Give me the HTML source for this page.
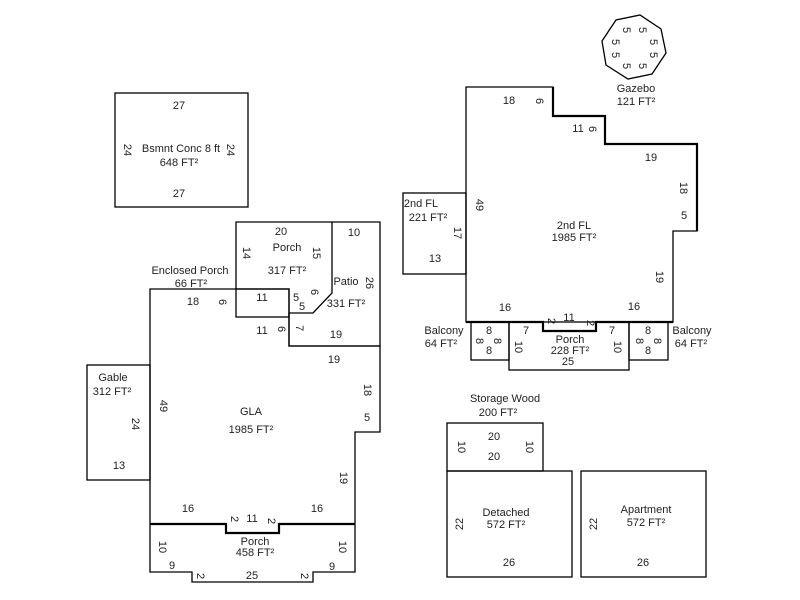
<!DOCTYPE html>
<html><head><meta charset="utf-8"><style>
html,body{margin:0;padding:0;background:#fff;}
svg{display:block;font-family:"Liberation Sans",Arial,sans-serif;font-size:11px;}
text{fill:#222;text-anchor:middle;dominant-baseline:middle;}
</style></head><body>
<svg width="800" height="600" viewBox="0 0 800 600" xmlns="http://www.w3.org/2000/svg">
<g fill="none" stroke="#000" stroke-width="1.3">
<polygon points="666,53 652,74 628,79 606,65 602,41 616,20 640,15 661,29"/>
<rect x="115" y="93" width="133" height="114"/>
<polyline points="236,289 236,222 332,222 332,293 313,313 289,313"/>
<rect x="236" y="289" width="53" height="28"/>
<polyline points="332,222 380,222 380,346 289,346 289,313"/>
<polyline points="150,524 150,289 289,289 289,346 380,346 380,432 355,432 355,524"/>
<rect x="87" y="365" width="63" height="115"/>
<polyline points="150,524 150,572 192,572 192,582 313,582 313,572 355,572 355,524"/>
<polygon points="466,87 553,87 553,116 605,116 605,144 697,144 697,231 673,231 673,322 596,322 596,331 543,331 543,322 466,322"/>
<rect x="403" y="193" width="63" height="81"/>
<rect x="471" y="322" width="38" height="38"/>
<rect x="509" y="322" width="120" height="48"/>
<rect x="629" y="322" width="39" height="38"/>
<rect x="447" y="423" width="96" height="48"/>
<rect x="447" y="471" width="125" height="106"/>
<rect x="581" y="471" width="125" height="106"/>
</g>
<g fill="none" stroke="#000" stroke-width="2.2">
<polyline points="150,524 226,524 226,533 279,533 279,524 355,524"/>
<polyline points="553,87 553,116 605,116 605,144 697,144 697,231"/>
<polyline points="466,322 543,322 543,331 596,331 596,322 673,322"/>
</g>
<text x="626" y="30" transform="rotate(90 626 30)">5</text>
<text x="642" y="30" transform="rotate(90 642 30)">5</text>
<text x="653" y="42" transform="rotate(90 653 42)">5</text>
<text x="653" y="55" transform="rotate(90 653 55)">5</text>
<text x="642" y="66" transform="rotate(90 642 66)">5</text>
<text x="626" y="66" transform="rotate(90 626 66)">5</text>
<text x="615" y="55" transform="rotate(90 615 55)">5</text>
<text x="615" y="42" transform="rotate(90 615 42)">5</text>
<text x="636" y="89">Gazebo</text>
<text x="636" y="102">121 FT²</text>
<text x="179" y="106">27</text>
<text x="181" y="149">Bsmnt Conc 8 ft</text>
<text x="179" y="163">648 FT²</text>
<text x="179" y="194">27</text>
<text x="127" y="150" transform="rotate(90 127 150)">24</text>
<text x="230" y="150" transform="rotate(90 230 150)">24</text>
<text x="281" y="232">20</text>
<text x="287" y="248">Porch</text>
<text x="287" y="271">317 FT²</text>
<text x="246" y="253" transform="rotate(90 246 253)">14</text>
<text x="316" y="253" transform="rotate(90 316 253)">15</text>
<text x="314" y="292" transform="rotate(90 314 292)">6</text>
<text x="296" y="298">5</text>
<text x="302" y="307">5</text>
<text x="354" y="233">10</text>
<text x="346" y="282">Patio</text>
<text x="369" y="283" transform="rotate(90 369 283)">26</text>
<text x="346" y="304">331 FT²</text>
<text x="299" y="328" transform="rotate(90 299 328)">7</text>
<text x="336" y="335">19</text>
<text x="190" y="271">Enclosed Porch</text>
<text x="191" y="284">66 FT²</text>
<text x="193" y="302">18</text>
<text x="222" y="302" transform="rotate(90 222 302)">6</text>
<text x="262" y="298">11</text>
<text x="262" y="331">11</text>
<text x="281" y="329" transform="rotate(90 281 329)">6</text>
<text x="334" y="360">19</text>
<text x="367" y="390" transform="rotate(90 367 390)">18</text>
<text x="367" y="418">5</text>
<text x="163" y="406" transform="rotate(90 163 406)">49</text>
<text x="251" y="412">GLA</text>
<text x="251" y="430">1985 FT²</text>
<text x="343" y="478" transform="rotate(90 343 478)">19</text>
<text x="188" y="509">16</text>
<text x="317" y="509">16</text>
<text x="234" y="519" transform="rotate(90 234 519)">2</text>
<text x="252" y="519">11</text>
<text x="271" y="521" transform="rotate(90 271 521)">2</text>
<text x="113" y="378">Gable</text>
<text x="112" y="392">312 FT²</text>
<text x="135" y="424" transform="rotate(90 135 424)">24</text>
<text x="119" y="466">13</text>
<text x="162" y="547" transform="rotate(90 162 547)">10</text>
<text x="255" y="542">Porch</text>
<text x="255" y="553">458 FT²</text>
<text x="342" y="547" transform="rotate(90 342 547)">10</text>
<text x="172" y="566">9</text>
<text x="332" y="567">9</text>
<text x="200" y="576" transform="rotate(90 200 576)">2</text>
<text x="252" y="576">25</text>
<text x="304" y="576" transform="rotate(90 304 576)">2</text>
<text x="509" y="101">18</text>
<text x="539" y="101" transform="rotate(90 539 101)">6</text>
<text x="578" y="129">11</text>
<text x="592" y="129" transform="rotate(90 592 129)">6</text>
<text x="651" y="158">19</text>
<text x="683" y="188" transform="rotate(90 683 188)">18</text>
<text x="684" y="216">5</text>
<text x="479" y="205" transform="rotate(90 479 205)">49</text>
<text x="574" y="226">2nd FL</text>
<text x="574" y="238">1985 FT²</text>
<text x="659" y="277" transform="rotate(90 659 277)">19</text>
<text x="505" y="308">16</text>
<text x="634" y="307">16</text>
<text x="551" y="321" transform="rotate(90 551 321)">2</text>
<text x="569" y="318">11</text>
<text x="590" y="323" transform="rotate(90 590 323)">2</text>
<text x="421" y="204">2nd FL</text>
<text x="428" y="218">221 FT²</text>
<text x="457" y="233" transform="rotate(90 457 233)">17</text>
<text x="435" y="259">13</text>
<text x="444" y="331">Balcony</text>
<text x="441" y="344">64 FT²</text>
<text x="489" y="331">8</text>
<text x="479" y="341" transform="rotate(90 479 341)">8</text>
<text x="497" y="341" transform="rotate(90 497 341)">8</text>
<text x="489" y="351">8</text>
<text x="526" y="331">7</text>
<text x="518" y="347" transform="rotate(90 518 347)">10</text>
<text x="570" y="340">Porch</text>
<text x="570" y="351">228 FT²</text>
<text x="568" y="362">25</text>
<text x="612" y="331">7</text>
<text x="617" y="347" transform="rotate(90 617 347)">10</text>
<text x="648" y="331">8</text>
<text x="639" y="341" transform="rotate(90 639 341)">8</text>
<text x="657" y="341" transform="rotate(90 657 341)">8</text>
<text x="648" y="351">8</text>
<text x="692" y="331">Balcony</text>
<text x="691" y="344">64 FT²</text>
<text x="505" y="399">Storage Wood</text>
<text x="498" y="413">200 FT²</text>
<text x="494" y="437">20</text>
<text x="494" y="457">20</text>
<text x="461" y="447" transform="rotate(90 461 447)">10</text>
<text x="529" y="447" transform="rotate(90 529 447)">10</text>
<text x="506" y="513">Detached</text>
<text x="506" y="525">572 FT²</text>
<text x="460" y="524" transform="rotate(-90 460 524)">22</text>
<text x="509" y="563">26</text>
<text x="646" y="510">Apartment</text>
<text x="646" y="523">572 FT²</text>
<text x="594" y="524" transform="rotate(-90 594 524)">22</text>
<text x="643" y="563">26</text>
</svg>
</body></html>
